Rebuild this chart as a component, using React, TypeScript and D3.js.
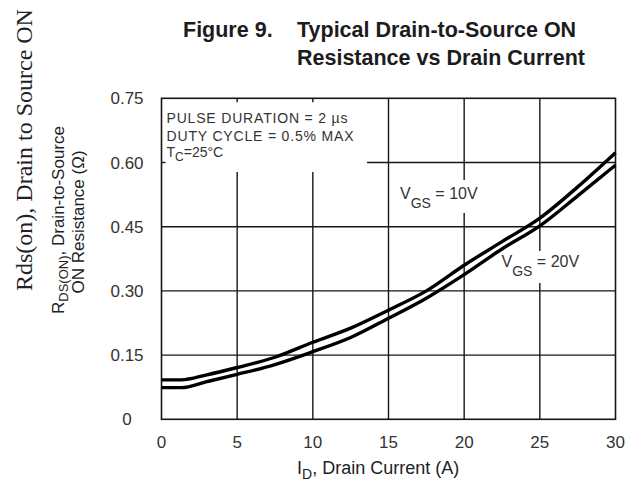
import React from "react";
import * as d3 from "d3";

// Drain current (A) sample points along the curves
const drainCurrent = [0, 1.3, 3, 5, 7.5, 10, 12.5, 15, 17.5, 20, 22.5, 25, 27.5, 30];
// RDS(ON) in ohms for each gate drive
const rdsVgs10 = [0.092, 0.092, 0.104, 0.121, 0.145, 0.18, 0.213, 0.255, 0.3, 0.36, 0.415, 0.47, 0.543, 0.623];
const rdsVgs20 = [0.074, 0.074, 0.088, 0.105, 0.128, 0.158, 0.191, 0.236, 0.283, 0.338, 0.398, 0.452, 0.522, 0.594];

const xTicks = [0, 5, 10, 15, 20, 25, 30];
const yTicks = [0, 0.15, 0.3, 0.45, 0.6, 0.75];
const yTickLabels = ["0", "0.15", "0.30", "0.45", "0.60", "0.75"];

const W = 625;
const H = 492;
const SANS = "'Liberation Sans', Arial, Helvetica, sans-serif";
const INK = "#161616";

export default function App() {
  const x = d3.scaleLinear().domain([0, 30]).range([161.5, 615.5]);
  const y = d3.scaleLinear().domain([0, 0.75]).range([419.3, 98.3]);
  const [x0, x1] = x.range();
  const [yb, yt] = y.range();

  const line = d3
    .line<number>()
    .x((_, i) => x(drainCurrent[i]))
    .y((d) => y(d))
    .curve(d3.curveMonotoneX);

  // notes box in the upper-left corner of the plot
  const box = { x: x0, y: yt, w: 367 - x0, h: 172 - yt };

  return (
    <svg
      width={W}
      height={H}
      viewBox={`0 0 ${W} ${H}`}
      style={{ position: "absolute", left: 0, top: 0, background: "#fff" }}
    >
      <rect x={0} y={0} width={W} height={H} fill="#fff" />

      {/* side caption */}
      <text
        transform="translate(32,291) rotate(-90)"
        fontFamily="'Liberation Serif', 'Times New Roman', serif"
        fontSize={24}
        fill="#222"
      >
        Rds(on), Drain to Source ON
      </text>

      {/* title */}
      <g fontFamily={SANS} fontWeight="bold" fontSize={21.5} fill="#1c1c1c">
        <text x={183} y={37}>Figure 9.</text>
        <text x={297} y={37}>Typical Drain-to-Source ON</text>
        <text x={297} y={65}>Resistance vs Drain Current</text>
      </g>

      {/* grid */}
      <g stroke={INK} strokeWidth={1.4}>
        {xTicks.slice(1, -1).map((t) => (
          <line key={"gx" + t} x1={x(t)} x2={x(t)} y1={yt} y2={yb} />
        ))}
        {yTicks.slice(1, -1).map((t) => (
          <line key={"gy" + t} x1={x0} x2={x1} y1={y(t)} y2={y(t)} />
        ))}
      </g>

      {/* notes box covers the grid */}
      <rect x={box.x} y={box.y} width={box.w} height={box.h} fill="#fff" />
      <g stroke={INK} strokeWidth={1.4}>
        {[5, 10].map((t) => (
          <line key={"tk" + t} x1={x(t)} x2={x(t)} y1={yt} y2={yt + 4} />
        ))}
        <line x1={x0} x2={x0 + 4} y1={y(0.6)} y2={y(0.6)} />
      </g>
      <g fontFamily={SANS} fontSize={14} fill="#333">
        <text x={166.5} y={123.3} textLength={181} lengthAdjust="spacing">
          PULSE DURATION = 2 µs
        </text>
        <text x={166.5} y={140.8} textLength={187} lengthAdjust="spacing">
          DUTY CYCLE = 0.5% MAX
        </text>
        <text x={166.5} y={156.5}>
          T<tspan fontSize={12} dy={4}>C</tspan>
          <tspan dy={-4}>=25°C</tspan>
        </text>
      </g>

      {/* curve label backgrounds */}
      <rect x={396} y={180} width={89} height={33} fill="#fff" />
      <rect x={498} y={251} width={84} height={32} fill="#fff" />

      {/* frame */}
      <rect
        x={x0}
        y={yt}
        width={x1 - x0}
        height={yb - yt}
        fill="none"
        stroke={INK}
        strokeWidth={1.6}
      />

      {/* curves */}
      <g fill="none" stroke="#000" strokeWidth={3.4} strokeLinejoin="round">
        <path d={line(rdsVgs10) ?? ""} />
        <path d={line(rdsVgs20) ?? ""} />
      </g>

      {/* curve labels */}
      <g fontFamily={SANS} fontSize={16} fill="#333">
        <text x={400} y={199}>
          V<tspan fontSize={14} dy={9}>GS</tspan>
          <tspan dy={-9}> = 10V</tspan>
        </text>
        <text x={501.5} y={267}>
          V<tspan fontSize={14} dy={9}>GS</tspan>
          <tspan dy={-9}> = 20V</tspan>
        </text>
      </g>

      {/* y tick labels */}
      <g fontFamily={SANS} fontSize={17} fill="#333" textAnchor="middle">
        {yTicks.map((t, i) => (
          <text key={"yl" + t} x={127} y={y(t) + 6}>
            {yTickLabels[i]}
          </text>
        ))}
      </g>

      {/* x tick labels */}
      <g fontFamily={SANS} fontSize={17} fill="#333" textAnchor="middle">
        {xTicks.map((t) => (
          <text key={"xl" + t} x={x(t)} y={448}>
            {t}
          </text>
        ))}
      </g>

      {/* x axis title */}
      <text x={297} y={474} fontFamily={SANS} fontSize={18} fill="#222">
        I<tspan fontSize={14} dy={5}>D</tspan>
        <tspan dy={-5}>, Drain Current (A)</tspan>
      </text>

      {/* y axis title */}
      <g fontFamily={SANS} fontSize={17} fill="#222" textAnchor="middle">
        <text transform="translate(64,220) rotate(-90)">
          R<tspan fontSize={13} dy={4}>DS(ON)</tspan>
          <tspan dy={-4}>, Drain-to-Source</tspan>
        </text>
        <text transform="translate(84,222) rotate(-90)">ON Resistance (Ω)</text>
      </g>
    </svg>
  );
}
